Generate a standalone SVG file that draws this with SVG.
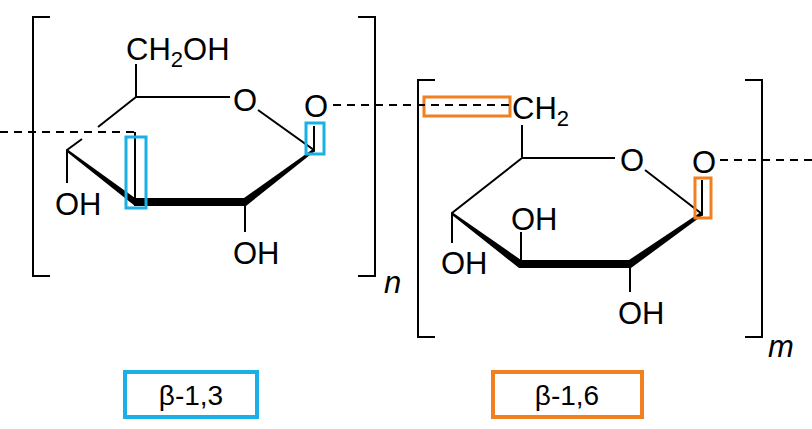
<svg xmlns="http://www.w3.org/2000/svg" width="812" height="429" viewBox="0 0 812 429">
<style>
text{font-family:"Liberation Sans",Arial,sans-serif;font-size:31px;fill:#000}
.l{stroke:#000;stroke-width:2;fill:none}
.d{stroke:#000;stroke-width:2;fill:none;stroke-dasharray:8,6}
.b{stroke:#1ab0e6;stroke-width:3;fill:none}
.o{stroke:#f08020;stroke-width:3;fill:none}
.bb{stroke:#1ab0e6;stroke-width:4;fill:none}
.ob{stroke:#f08020;stroke-width:4;fill:none}
.it{font-style:italic}
.lb{font-size:28px}
</style>
<rect width="812" height="429" fill="#fff"/>
<g id="unit1">
<path class="l" d="M50,17H33V276H50M358,17H375V276H358"/>
<text x="126" y="60">CH<tspan font-size="22" dy="7">2</tspan><tspan dy="-7">OH</tspan></text>
<text x="233" y="111">O</text>
<text x="304" y="117">O</text>
<path class="l" d="M136,64V97H230M258,110L314,150V126M136,97L98,127M82,139L67,150V183M135,132V202M245,202V232"/>
<polygon points="67,149 67,152 135,206 135,198"/>
<rect x="134" y="198" width="112" height="8"/>
<polygon points="244,198 246,206 315,151 313,149"/>
<text x="55" y="215">OH</text>
<text x="233" y="264">OH</text>
<text class="it" x="384" y="293">n</text>
<rect class="b" x="126" y="137" width="20" height="71"/>
<rect class="b" x="306" y="123" width="18" height="31"/>
</g>
<g id="unit2">
<path class="l" d="M435,80H418V337H435M745,80H762V337H745"/>
<text x="512" y="119">CH<tspan font-size="22" dy="7">2</tspan></text>
<text x="620" y="171">O</text>
<text x="692" y="173">O</text>
<path class="l" d="M522,125V158H615M645,170L702,214V180M522,158L452,213V243M521,262V232M630,264V292"/>
<polygon points="452,212 452,215 519,268 521,260"/>
<rect x="519" y="260" width="112" height="8"/>
<polygon points="629,260 631,268 703,215 701,212"/>
<text x="441" y="274">OH</text>
<text x="511" y="230">OH</text>
<text x="618" y="324">OH</text>
<text class="it" x="768" y="357">m</text>
<rect class="o" x="424" y="97" width="86" height="19"/>
<rect class="o" x="695" y="178" width="16" height="40"/>
</g>
<g id="connectors">
<path class="d" d="M0,132H135"/>
<path class="d" d="M333,105H510"/>
<path class="d" d="M720,160H812"/>
</g>
<g id="label13">
<rect class="bb" x="125" y="372" width="132" height="45"/>
<text class="lb" x="191" y="405" text-anchor="middle">β-1,3</text>
</g>
<g id="label16">
<rect class="ob" x="493" y="372" width="149" height="45"/>
<text class="lb" x="567" y="405" text-anchor="middle">β-1,6</text>
</g>
</svg>
